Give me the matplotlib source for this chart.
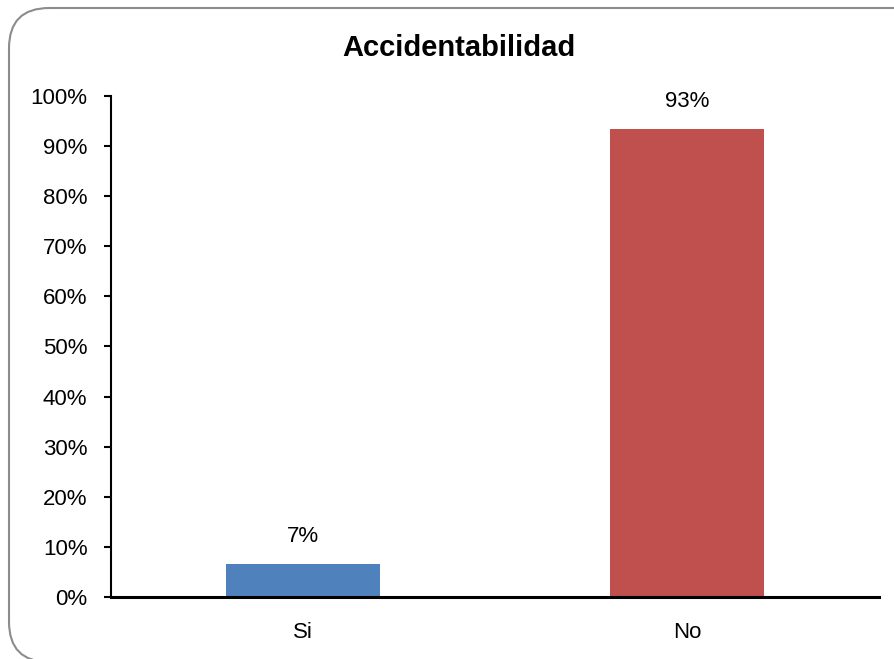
import matplotlib
matplotlib.use("Agg")
import matplotlib.pyplot as plt
from matplotlib.patches import FancyBboxPatch
from matplotlib.ticker import PercentFormatter, MultipleLocator

categories = ["Si", "No"]
values = [0.066, 0.934]
labels = ["7%", "93%"]
colors = ["#4F81BD", "#C0504D"]
title = "Accidentabilidad"

W, H = 894, 659
fig = plt.figure(figsize=(W / 100, H / 100), dpi=100)

# rounded frame (extends beyond right edge)
frame = FancyBboxPatch((9 / W, 1 - 662 / H), 950 / W, 654 / H,
                       boxstyle="round,pad=0,rounding_size=0.045",
                       transform=fig.transFigure, facecolor="white",
                       edgecolor="#8c8c8c", linewidth=1.5, mutation_aspect=W / H,
                       zorder=-5)
fig.patches.append(frame)

ax = fig.add_axes([111 / W, 62 / H, 768 / W, 501 / H])
ax.set_zorder(2)
ax.patch.set_alpha(0)
x = list(range(len(categories)))
ax.bar(x, values, width=0.4, color=colors, zorder=2)
for xi, v, lab in zip(x, values, labels):
    ax.annotate(lab, (xi, v), xytext=(0, 19.5), textcoords="offset points",
                ha="center", va="center", fontsize=16, family="Liberation Sans")

ax.set_xlim(-0.5, 1.5)
ax.set_ylim(0, 1)
ax.yaxis.set_major_locator(MultipleLocator(0.1))
ax.yaxis.set_major_formatter(PercentFormatter(1.0, decimals=0))
ax.set_xticks(x)
ax.set_xticklabels(categories)
for s in ["top", "right"]:
    ax.spines[s].set_visible(False)
ax.spines["left"].set_linewidth(1.5)
ax.spines["bottom"].set_linewidth(2.2)
ax.tick_params(axis="y", length=5, width=1.5, labelsize=16, pad=12)
ax.tick_params(axis="x", length=0, labelsize=16, pad=18)
for t in ax.get_xticklabels() + ax.get_yticklabels():
    t.set_family("Liberation Sans")

fig.text(459 / W, 1 - 48 / H, title, ha="center", va="center",
         fontsize=21, fontweight="bold", family="Liberation Sans", zorder=3)

fig.savefig("out.png", dpi=100)
